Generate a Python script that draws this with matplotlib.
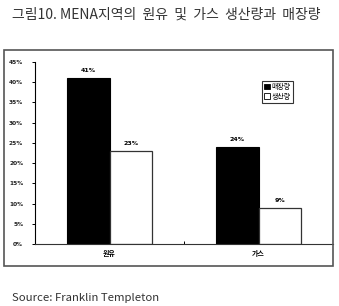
import numpy as np
import matplotlib
matplotlib.use("Agg")
import matplotlib.pyplot as plt
from matplotlib.patches import Rectangle, Patch

plt.rcParams['font.family'] = ['Noto Sans CJK KR', 'DejaVu Sans']

# data
categories = ["원유", "가스"]
series_names = ["매장량", "생산량"]
reserves = [41, 24]
production = [23, 9]
yticks = [0, 5, 10, 15, 20, 25, 30, 35, 40, 45]

W, H = 339, 306
fig = plt.figure(figsize=(W / 100, H / 100), dpi=100)

# outer frame around chart area
frame = Rectangle((4 / W, 1 - 265.5 / H), 329 / W, 215.5 / H, transform=fig.transFigure,
                  fill=False, edgecolor="#555555", linewidth=1.2)
fig.patches.append(frame)

ax = fig.add_axes([35 / W, 1 - 244.3 / H, 298 / W, 182.6 / H])

x = np.arange(len(categories))
bw = 1 / 3.5
ax.bar(x - bw / 2, reserves, width=bw, color="black", edgecolor="black", linewidth=0.8)
ax.bar(x + bw / 2, production, width=bw, color="white", edgecolor="#333333", linewidth=0.9)

for i in range(len(categories)):
    ax.text(x[i] - bw / 2, reserves[i] + 1.2, f"{reserves[i]}%", ha="center", va="bottom",
            fontsize=4.5, fontweight="bold", family="DejaVu Sans")
    ax.text(x[i] + bw / 2, production[i] + 1.2, f"{production[i]}%", ha="center", va="bottom",
            fontsize=4.5, fontweight="bold", family="DejaVu Sans")

ax.set_xlim(-0.5, 1.5)
ax.set_ylim(0, 45)
ax.set_yticks(yticks)
ax.set_yticklabels([f"{v}%" for v in yticks], fontsize=4.2, fontweight="bold", family="DejaVu Sans",
                   color="#222222")
ax.tick_params(axis="y", length=2.5, width=0.7, pad=6)
ax.set_xticks(x)
ax.set_xticklabels(categories, fontsize=5, fontweight="bold")
ax.tick_params(axis="x", length=0, pad=4)
# small boundary tick between categories
ax.set_xticks([0.5], minor=True)
ax.tick_params(axis="x", which="minor", direction="in", length=2, width=0.7)

for s in ["top", "right"]:
    ax.spines[s].set_visible(False)
ax.spines["left"].set_linewidth(0.8)
ax.spines["bottom"].set_linewidth(0.8)
ax.spines["bottom"].set_color("#333333")

handles = [Patch(facecolor="black", edgecolor="black", linewidth=0.6),
           Patch(facecolor="white", edgecolor="black", linewidth=0.6)]
leg = ax.legend(handles, series_names, loc="upper left", bbox_to_anchor=(227 / 298, 1 - 19 / 182.6),
                fontsize=5, frameon=True, fancybox=False, handlelength=0.8, handleheight=0.8,
                handletextpad=0.3, borderpad=0.3, labelspacing=0.25, borderaxespad=0)
leg.get_frame().set_edgecolor("black")
leg.get_frame().set_linewidth(0.8)

fig.text(12 / W, 1 - 15 / H, "그림10. MENA지역의  원유  및  가스  생산량과  매장량", fontsize=10,
         ha="left", va="center", color="#333333")
fig.text(12 / W, 1 - 298 / H, "Source: Franklin Templeton", fontsize=8.2,
         ha="left", va="center", color="#333333")

fig.savefig("out.png", dpi=100)
